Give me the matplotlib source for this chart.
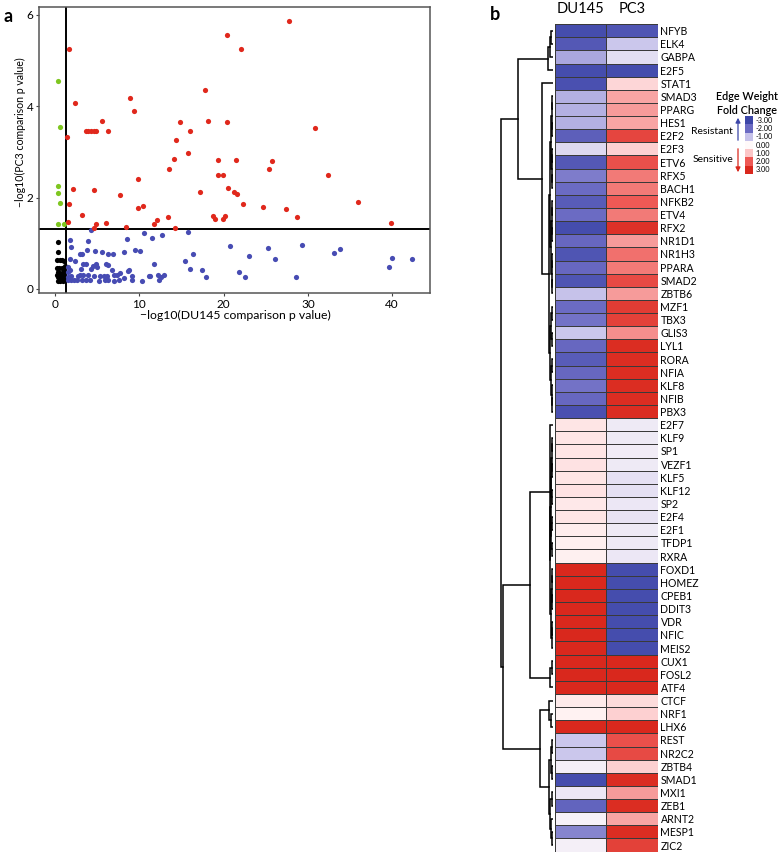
import matplotlib.pyplot as plt
import numpy as np
from matplotlib.colors import LinearSegmentedColormap, Normalize
from matplotlib.patches import FancyArrowPatch

plt.rcParams['font.family'] = ['Lato', 'DejaVu Sans']

# ---- panel a: -log10 p values (DU145 comparison, PC3 comparison)
du145_logp = [
    # both significant
    1.66, 2.37, 1.42, 3.64, 3.95, 4.27, 4.58, 4.9, 5.53, 6.25, 8.93, 9.41, 9.88, 9.8, 10.47,
    2.17, 1.62, 1.5, 3.2, 4.66, 4.82, 4.58, 6.05, 7.75, 8.42, 11.74, 12.13, 13.36, 13.56,
    14.1, 14.39, 14.19, 14.78, 15.81, 16.0, 17.23, 17.75, 18.14, 19.4, 19.4, 19.96, 18.7,
    19.01, 19.92, 20.2, 20.4, 20.43, 20.51, 21.23, 21.54, 21.5, 22.13, 22.29, 24.74, 25.38,
    25.77, 27.43, 27.79, 28.74, 30.91, 32.37, 36.0, 39.88,
    # PC3 only
    0.32, 0.59, 0.32, 0.4, 0.63, 0.36, 1.03,
    # neither
    0.4, 0.4, 0.25, 0.55, 0.85, 1.1, 0.2, 0.5, 0.8, 1.1, 0.3, 0.9, 0.25, 0.6, 1.0, 0.4,
    0.8, 1.15, 0.3, 0.6, 0.95, 0.5, 1.2,
    # DU145 only
    4.27, 1.74, 1.94, 3.87, 8.5, 10.51, 11.54, 12.73, 15.73, 20.71, 16.36, 15.38, 16.05,
    17.39, 17.87, 21.82, 22.6, 23.0, 25.26, 26.05, 28.58, 29.29, 33.08, 33.87, 39.64, 40.04,
    42.37, 11.74, 11.23, 10.12, 9.45, 8.14, 6.92, 6.25, 5.53, 4.74, 3.83, 3.24, 2.92, 1.82,
    2.41, 1.82, 3.36, 3.64, 3.08, 4.31, 4.47, 4.9, 4.94, 6.05, 6.32, 6.8, 8.77, 8.66, 7.71,
    7.35, 7.0, 5.81, 6.21, 5.38, 4.66, 3.91, 3.36, 2.96, 2.69, 1.86, 2.21, 2.61, 3.2, 3.68,
    4.19, 5.18, 5.97, 6.32, 6.96, 7.55, 8.18, 9.09, 9.17, 10.32, 11.15, 12.17, 12.61, 12.92,
    12.33, 1.58, 1.5, 1.54, 1.5, 1.9,
]
pc3_logp = [
    5.26, 4.07, 3.32, 3.46, 3.46, 3.46, 3.46, 3.46, 3.68, 3.46, 4.18, 3.89, 2.40, 1.77, 1.82,
    2.18, 1.85, 1.47, 1.62, 2.16, 1.42, 1.33, 1.45, 2.05, 1.35, 1.42, 1.50, 1.57, 2.63,
    2.85, 3.25, 1.34, 3.66, 2.97, 3.46, 2.12, 4.36, 3.68, 2.82, 2.50, 2.49, 1.59,
    1.54, 1.52, 1.59, 5.56, 3.66, 2.2, 2.11, 2.07, 2.83, 5.26, 1.85, 1.80, 2.63,
    2.80, 1.75, 5.87, 1.57, 3.53, 2.50, 1.91, 1.45,
    4.54, 3.54, 2.26, 2.09, 1.89, 1.42, 1.42,
    1.03, 0.8, 0.63, 0.63, 0.64, 0.62, 0.45, 0.45, 0.45, 0.43, 0.38, 0.36, 0.3, 0.3, 0.3, 0.25,
    0.24, 0.22, 0.18, 0.18, 0.18, 0.35, 0.5,
    1.29, 1.08, 0.92, 1.05, 1.09, 1.22, 1.11, 1.18, 1.24, 0.94, 0.77, 0.60, 0.43,
    0.42, 0.27, 0.36, 0.27, 0.72, 0.89, 0.66, 0.27, 0.96, 0.79, 0.88, 0.48, 0.68,
    0.65, 0.55, 0.28, 0.82, 0.86, 0.81, 0.77, 0.77, 0.81, 0.82, 0.86, 0.77, 0.77, 0.65,
    0.60, 0.41, 0.55, 0.55, 0.44, 0.44, 0.50, 0.55, 0.48, 0.55, 0.52, 0.42, 0.42, 0.39, 0.35,
    0.31, 0.31, 0.29, 0.29, 0.29, 0.29, 0.31, 0.31, 0.31, 0.29, 0.29, 0.19, 0.19, 0.19, 0.19,
    0.19, 0.18, 0.19, 0.19, 0.18, 0.19, 0.23, 0.28, 0.19, 0.18, 0.29, 0.31, 0.26, 0.31,
    0.20, 0.19, 0.26, 0.37, 0.48, 0.19,
]
cutoff = -np.log10(0.05)

# ---- panel b: edge weight fold change
tf_names = ["NFYB", "ELK4", "GABPA", "E2F5", "STAT1", "SMAD3", "PPARG", "HES1", "E2F2", "E2F3",
            "ETV6", "RFX5", "BACH1", "NFKB2", "ETV4", "RFX2", "NR1D1", "NR1H3", "PPARA", "SMAD2",
            "ZBTB6", "MZF1", "TBX3", "GLIS3", "LYL1", "RORA", "NFIA", "KLF8", "NFIB", "PBX3",
            "E2F7", "KLF9", "SP1", "VEZF1", "KLF5", "KLF12", "SP2", "E2F4", "E2F1", "TFDP1",
            "RXRA", "FOXD1", "HOMEZ", "CPEB1", "DDIT3", "VDR", "NFIC", "MEIS2", "CUX1", "FOSL2",
            "ATF4", "CTCF", "NRF1", "LHX6", "REST", "NR2C2", "ZBTB4", "SMAD1", "MXI1", "ZEB1",
            "ARNT2", "MESP1", "ZIC2"]
du145_fc = [-2.8, -2.5, -1.3, -2.8, -2.7, -1.2, -1.2, -1.2, -2.3, -0.6,
            -2.5, -1.8, -2.0, -2.4, -2.0, -2.8, -2.1, -2.6, -2.1, -2.6,
            -1.0, -2.0, -1.9, -0.9, -2.1, -2.4, -2.1, -1.9, -2.1, -2.7,
            0.4, 0.4, 0.4, 0.45, 0.4, 0.45, 0.35, 0.4, 0.25, 0.2,
            0.2, 3.0, 3.0, 3.0, 3.0, 3.0, 3.0, 3.0, 3.0, 3.0,
            3.0, 0.3, 0.15, 3.0, -0.9, -0.9, -0.2, -2.8, -0.35, -2.2,
            -0.15, -1.7, -0.2]
pc3_fc = [-2.6, -0.9, -0.5, -2.8, 0.7, 1.3, 1.4, 1.3, 2.4, 0.8,
          2.2, 1.7, 1.7, 2.0, 1.7, 2.8, 1.4, 1.8, 1.7, 2.3,
          1.4, 2.6, 2.5, 1.5, 2.9, 2.9, 2.9, 2.9, 2.9, 2.9,
          -0.3, -0.3, -0.25, -0.3, -0.45, -0.45, -0.35, -0.4, -0.3, -0.3,
          -0.35, -2.8, -2.8, -2.8, -2.8, -2.8, -2.8, -2.8, 3.0, 3.0,
          3.0, 0.6, 0.8, 3.0, 2.2, 2.3, 0.8, 2.9, 1.4, 2.9,
          1.3, 2.9, 2.5]
cell_lines = ["DU145", "PC3"]
legend_values = [-3, -2, -1, 0, 1, 2, 3]

# row clustering: (height, left, right)
clu_top = (35.0,
           (5.0, (3.0, (1.5, "NFYB", "ELK4"), "GABPA"), "E2F5"),
           (11.3, "STAT1",
            (4.0,
             (3.0,
              (2.2, (1.4, (0.6, "SMAD3", "PPARG"), (0.6, "HES1", "E2F2")),
                    (1.4, (0.6, "E2F3", "ETV6"), (0.6, "RFX5", "BACH1"))),
              (2.2, (1.4, (0.6, "NFKB2", "ETV4"), (0.6, "RFX2", "NR1D1")),
                    (1.4, (0.6, "NR1H3", "PPARA"), (0.6, "SMAD2", "ZBTB6")))),
             (2.8, (1.6, (0.6, "MZF1", "TBX3"), (0.6, "GLIS3", "LYL1")),
                   (2.0, (0.6, "RORA", "NFIA"), (1.2, "KLF8", (0.6, "NFIB", "PBX3")))))))
clu_mid = (23.0,
           (3.0, "E2F7",
            (2.5,
             (2.0, (1.5, (1.0, (0.5, "KLF9", "SP1"), (0.5, "VEZF1", "KLF5")), (0.5, "KLF12", "SP2")),
                   (1.5, (0.5, "E2F4", "E2F1"), (0.5, "TFDP1", "RXRA"))),
             (2.0, (1.2, (0.5, "FOXD1", "HOMEZ"), (0.5, "CPEB1", "DDIT3")),
                   (1.2, (0.5, "VDR", "NFIC"), "MEIS2")))),
           (2.5, (1.0, "CUX1", "FOSL2"), "ATF4"))
clu_low = (13.0,
           (4.0, "CTCF", (2.0, "NRF1", "LHX6")),
           (3.7, (2.0, (1.0, "REST", "NR2C2"), (1.0, "ZBTB4", "SMAD1")),
                 (2.5, (1.0, "MXI1", "ZEB1"), (1.5, "ARNT2", (0.8, "MESP1", "ZIC2")))))
tree = (52.3, clu_top, (50.3, clu_mid, clu_low))

W, H = 780, 852
fig = plt.figure(figsize=(W / 100, H / 100), dpi=100)


def frac(x0, y0, x1, y1):
    return [x0 / W, 1 - y1 / H, (x1 - x0) / W, (y1 - y0) / H]


# ================= panel a
ax = fig.add_axes(frac(39, 7, 430, 293))
x = np.array(du145_logp)
y = np.array(pc3_logp)
sig_du = x > cutoff
sig_pc = y > cutoff
groups = [(~sig_du & ~sig_pc, "black"), (sig_du & ~sig_pc, "#474cb3"),
          (~sig_du & sig_pc, "#7ec620"), (sig_du & sig_pc, "#e0281c")]
for mask, col in groups:
    ax.scatter(x[mask], y[mask], s=14, color=col, linewidths=0, zorder=3)
ax.axhline(cutoff, color="black", lw=1.4, zorder=2)
ax.axvline(cutoff, color="black", lw=1.4, zorder=2)
ax.set_xlim(-1.9, 44.5)
ax.set_ylim(-0.09, 6.17)
ax.set_xticks([0, 10, 20, 30, 40])
ax.set_yticks([0, 2, 4, 6])
ax.tick_params(labelsize=8.5, length=2.5, width=0.8, color="#444444", pad=1.5)
for sp in ax.spines.values():
    sp.set_color("#555555")
    sp.set_linewidth(1.1)
fig.text(235 / W, 1 - 315 / H, "\u2212log10(DU145 comparison p value)", fontsize=8.8,
         ha="center", va="center")
fig.text(20 / W, 1 - 132 / H, "\u2212log10(PC3 comparison p value)", fontsize=7.6,
         rotation=90, ha="center", va="center")
fig.text(4 / W, 1 - 17 / H, "a", fontsize=13, fontweight="bold", ha="left", va="center")

# ================= panel b
cmap = LinearSegmentedColormap.from_list(
    "fc", ["#3c46a8", "#6c6bc3", "#c6c2ea", "#fffafa", "#fcc6c7", "#ee5a56", "#d9281d"])
norm = Normalize(-3, 3)
n = len(tf_names)
row_of = {name: i + 0.5 for i, name in enumerate(tf_names)}

ax_hm = fig.add_axes(frac(555, 24.1, 657.7, 851.6))
vals = np.column_stack([du145_fc, pc3_fc])
ax_hm.pcolormesh(vals, cmap=cmap, norm=norm, edgecolors="#3a3a3a", linewidth=0.6)
ax_hm.set_ylim(n, 0)
ax_hm.set_xlim(0, 2)
ax_hm.yaxis.tick_right()
ax_hm.set_yticks(np.arange(n) + 0.5)
ax_hm.set_yticklabels(tf_names, fontsize=7.6)
ax_hm.xaxis.tick_top()
ax_hm.set_xticks([0.5, 1.5])
ax_hm.set_xticklabels(cell_lines, fontsize=10.5)
ax_hm.tick_params(length=0, pad=2)
ax_hm.tick_params(axis="x", pad=6)
for sp in ax_hm.spines.values():
    sp.set_visible(False)

# dendrogram
ax_dn = fig.add_axes(frac(497, 24.1, 553, 851.6))


def draw_node(node):
    if isinstance(node, str):
        return row_of[node], 0.0
    h, left, right = node
    yl, hl = draw_node(left)
    yr, hr = draw_node(right)
    ax_dn.plot([hl, h, h, hr], [yl, yl, yr, yr], color="black", lw=1.1,
               solid_joinstyle="miter")
    return (yl + yr) / 2, h


draw_node(tree)
ax_dn.set_xlim(56, 0)
ax_dn.set_ylim(n, 0)
ax_dn.axis("off")

fig.text(490 / W, 1 - 15 / H, "b", fontsize=13, fontweight="bold", ha="left", va="center")

# colour legend
ax_lg = fig.add_axes(frac(745, 116, 753.3, 174))
ax_lg.pcolormesh(np.array(legend_values)[:, None], cmap=cmap, norm=norm)
ax_lg.set_ylim(len(legend_values), 0)
ax_lg.axis("off")
for i, v in enumerate(legend_values):
    ax_lg.text(1.25, i + 0.5, "%.2f" % v, fontsize=5.3, ha="left", va="center",
               transform=ax_lg.transData, clip_on=False)

fig.text(747 / W, 1 - 97 / H, "Edge Weight", fontsize=7.8, fontweight="semibold",
         ha="center", va="center")
fig.text(747 / W, 1 - 110 / H, "Fold Change", fontsize=7.8, fontweight="semibold",
         ha="center", va="center")
fig.text(733 / W, 1 - 131 / H, "Resistant", fontsize=7.5, ha="right", va="center")
fig.text(733 / W, 1 - 159 / H, "Sensitive", fontsize=7.5, ha="right", va="center")
fig.add_artist(FancyArrowPatch((738 / W, 1 - 143 / H), (738 / W, 1 - 115 / H),
                               transform=fig.transFigure, arrowstyle="-|>",
                               mutation_scale=7, color="#3c46a8", lw=0.9))
fig.add_artist(FancyArrowPatch((738 / W, 1 - 146 / H), (738 / W, 1 - 175 / H),
                               transform=fig.transFigure, arrowstyle="-|>",
                               mutation_scale=7, color="#d9281d", lw=0.9))

fig.savefig("out.png", dpi=100)
plt.close(fig)
